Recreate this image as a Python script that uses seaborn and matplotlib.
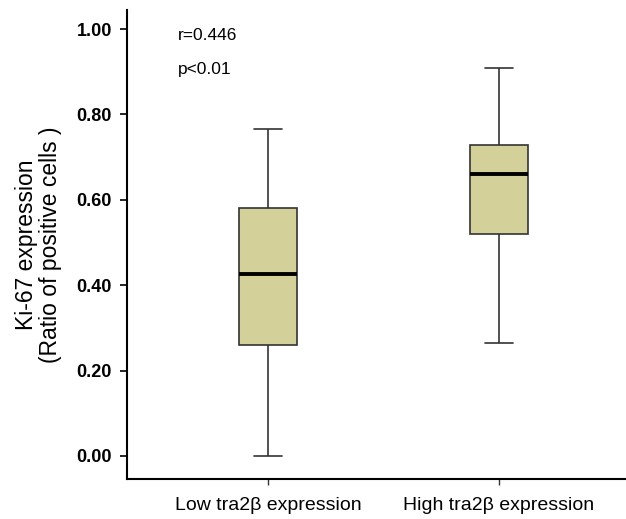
import pandas as pd
import matplotlib
matplotlib.use("Agg")
import matplotlib.pyplot as plt
import seaborn as sns

# data (min, Q1, median, Q3, max per group)
groups = ["Low tra2\u03b2 expression", "High tra2\u03b2 expression"]
low_values = [0.00, 0.26, 0.426, 0.581, 0.766]
high_values = [0.265, 0.52, 0.66, 0.728, 0.909]
y_ticks = [0.0, 0.2, 0.4, 0.6, 0.8, 1.0]

df = pd.DataFrame({
    "group": [groups[0]] * len(low_values) + [groups[1]] * len(high_values),
    "ki67": low_values + high_values,
})

sns.set_style("white")
plt.rcParams["font.family"] = ["Liberation Sans", "DejaVu Sans"]
plt.rcParams["text.color"] = "black"
plt.rcParams["axes.labelcolor"] = "black"
plt.rcParams["xtick.color"] = "black"
plt.rcParams["ytick.color"] = "black"

fig = plt.figure(figsize=(6.26, 5.19), dpi=100)
ax = fig.add_axes([0.203, 0.077, 0.797, 0.904])

sns.boxplot(data=df, x="group", y="ki67", order=groups, ax=ax,
            color="#d4d09a", saturation=1, width=0.25, whis=1.5,
            linecolor="#333333", linewidth=1.2,
            medianprops={"color": "black", "linewidth": 2.8})

ax.set_xlim(-0.61, 1.55)
ax.set_ylim(-0.054, 1.045)
ax.set_yticks(y_ticks)
ax.set_yticklabels([f"{t:.2f}" for t in y_ticks], fontsize=13, fontweight="bold")
ax.tick_params(axis="x", labelsize=14, length=4, width=1, color="#333333", pad=9)
ax.tick_params(axis="y", length=5, width=1.2, color="black", pad=6)
ax.tick_params(left=True, bottom=True)
ax.set_xlabel("")
ax.set_ylabel("Ki-67 expression\n(Ratio of positive cells )", fontsize=16.5,
              linespacing=1.1, labelpad=10)

for side in ["top", "right"]:
    ax.spines[side].set_visible(False)
for side in ["left", "bottom"]:
    ax.spines[side].set_color("black")
    ax.spines[side].set_linewidth(1.5)

ax.text(-0.39, 0.984, "r=0.446", fontsize=12.5, va="center", ha="left")
ax.text(-0.39, 0.906, "p<0.01", fontsize=12.5, va="center", ha="left")

fig.savefig("out.png", dpi=100)
